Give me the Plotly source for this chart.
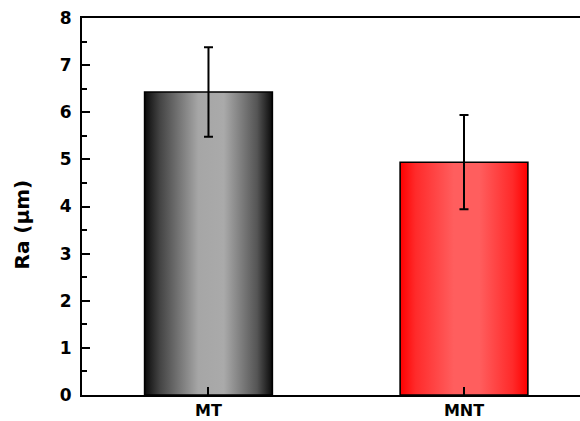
import plotly.graph_objects as go

categories = ["MT", "MNT"]
ra_values = [6.43, 4.94]
ra_errors = [0.95, 1.0]
y_ticks = [0, 1, 2, 3, 4, 5, 6, 7, 8]
y_title = "Ra (μm)"

BAR_W = 0.5
FONT = "DejaVu Sans, Arial, sans-serif"
gradients = [
    [[0, "#0a0a0a"], [0.12, "#444444"], [0.42, "#a6a6a6"], [0.62, "#aaaaaa"], [0.88, "#555555"], [1, "#0a0a0a"]],
    [[0, "#ff0000"], [0.12, "#ff2a2a"], [0.42, "#ff5e5e"], [0.62, "#ff5e5e"], [0.88, "#ff2a2a"], [1, "#ff0000"]],
]

fig = go.Figure()
xs = list(range(len(categories)))
for i, (v, grad) in enumerate(zip(ra_values, gradients)):
    x0, x1 = xs[i] - BAR_W / 2, xs[i] + BAR_W / 2
    fig.add_trace(go.Scatter(
        x=[x0, x0, x1, x1, x0], y=[0, v, v, 0, 0],
        mode="lines", fill="toself",
        fillgradient=dict(type="horizontal", colorscale=grad),
        line=dict(color="black", width=1.6),
        hoverinfo="skip", showlegend=False,
    ))

fig.add_trace(go.Scatter(
    x=xs, y=ra_values, mode="markers",
    marker=dict(size=1, opacity=0),
    error_y=dict(type="data", array=ra_errors, visible=True,
                 color="black", thickness=2, width=4.5),
    showlegend=False,
))

fig.update_layout(
    width=580, height=421,
    margin=dict(l=82, r=0, t=18, b=26),
    paper_bgcolor="white", plot_bgcolor="white",
    font=dict(family=FONT, color="black"),
    xaxis=dict(
        range=[-0.495, 1.454], tickvals=xs, ticktext=categories,
        showline=True, linecolor="black", linewidth=2, mirror=True,
        ticks="inside", ticklen=8, tickwidth=1.5, tickcolor="black",
        showgrid=False, zeroline=False, layer="above traces",
        tickfont=dict(family=FONT, size=16, weight="bold"),
    ),
    yaxis=dict(
        range=[0, 8], tickvals=y_ticks,
        showline=True, linecolor="black", linewidth=2,
        ticks="inside", ticklen=8, tickwidth=1.5, tickcolor="black",
        minor=dict(dtick=0.5, ticks="inside", ticklen=5, tickwidth=1.5, tickcolor="black"),
        showgrid=False, zeroline=False, layer="above traces",
        ticklabelstandoff=5,
        tickfont=dict(family=FONT, size=17, weight="bold"),
    ),
    annotations=[dict(
        text=y_title, xref="paper", yref="paper", x=0, y=(395 - 224.5) / 377,
        xanchor="center", yanchor="middle", xshift=-61, textangle=-90,
        showarrow=False, font=dict(family=FONT, size=20, weight="bold"),
    )],
)

fig.write_html("out.html")
